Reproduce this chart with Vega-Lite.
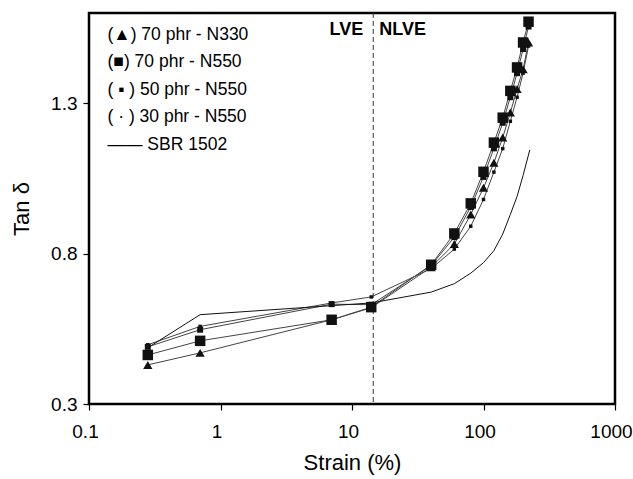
{
  "$schema": "https://vega.github.io/schema/vega-lite/v6.json",
  "width": 526,
  "height": 391,
  "autosize": {"type": "none"},
  "padding": {"left": 89, "top": 13, "right": 18, "bottom": 75},
  "background": "white",
  "config": {
    "font": "Liberation Sans",
    "view": {"stroke": "black", "strokeWidth": 2.5},
    "axis": {"grid": false, "domain": false, "tickColor": "black", "tickSize": 6, "tickWidth": 1.2, "labelColor": "black", "labelFont": "Liberation Sans", "labelFontSize": 19, "titleFont": "Liberation Sans", "titleFontSize": 22, "titleFontWeight": "normal", "titleColor": "black"}
  },
  "datasets": {
    "curves": [
      {"series": "(▲) 70 phr - N330", "strain": 0.28, "tan": 0.43},
      {"series": "(▲) 70 phr - N330", "strain": 0.7, "tan": 0.47},
      {"series": "(▲) 70 phr - N330", "strain": 7, "tan": 0.58},
      {"series": "(▲) 70 phr - N330", "strain": 14, "tan": 0.62},
      {"series": "(▲) 70 phr - N330", "strain": 40, "tan": 0.755},
      {"series": "(▲) 70 phr - N330", "strain": 60, "tan": 0.832},
      {"series": "(▲) 70 phr - N330", "strain": 80, "tan": 0.93},
      {"series": "(▲) 70 phr - N330", "strain": 100, "tan": 1.019},
      {"series": "(▲) 70 phr - N330", "strain": 120, "tan": 1.102},
      {"series": "(▲) 70 phr - N330", "strain": 140, "tan": 1.186},
      {"series": "(▲) 70 phr - N330", "strain": 160, "tan": 1.269},
      {"series": "(▲) 70 phr - N330", "strain": 180, "tan": 1.347},
      {"series": "(▲) 70 phr - N330", "strain": 200, "tan": 1.413},
      {"series": "(▲) 70 phr - N330", "strain": 220, "tan": 1.502},
      {"series": "(■) 70 phr - N550", "strain": 0.28, "tan": 0.463},
      {"series": "(■) 70 phr - N550", "strain": 0.7, "tan": 0.51},
      {"series": "(■) 70 phr - N550", "strain": 7, "tan": 0.58},
      {"series": "(■) 70 phr - N550", "strain": 14, "tan": 0.622},
      {"series": "(■) 70 phr - N550", "strain": 40, "tan": 0.763},
      {"series": "(■) 70 phr - N550", "strain": 60, "tan": 0.867},
      {"series": "(■) 70 phr - N550", "strain": 80, "tan": 0.967},
      {"series": "(■) 70 phr - N550", "strain": 100, "tan": 1.072},
      {"series": "(■) 70 phr - N550", "strain": 120, "tan": 1.169},
      {"series": "(■) 70 phr - N550", "strain": 140, "tan": 1.252},
      {"series": "(■) 70 phr - N550", "strain": 160, "tan": 1.341},
      {"series": "(■) 70 phr - N550", "strain": 180, "tan": 1.419},
      {"series": "(■) 70 phr - N550", "strain": 200, "tan": 1.502},
      {"series": "(■) 70 phr - N550", "strain": 220, "tan": 1.571},
      {"series": "( ▪ ) 50 phr - N550", "strain": 0.28, "tan": 0.49},
      {"series": "( ▪ ) 50 phr - N550", "strain": 0.7, "tan": 0.547},
      {"series": "( ▪ ) 50 phr - N550", "strain": 7, "tan": 0.632},
      {"series": "( ▪ ) 50 phr - N550", "strain": 14, "tan": 0.63},
      {"series": "( ▪ ) 50 phr - N550", "strain": 40, "tan": 0.76},
      {"series": "( ▪ ) 50 phr - N550", "strain": 60, "tan": 0.855},
      {"series": "( ▪ ) 50 phr - N550", "strain": 80, "tan": 0.955},
      {"series": "( ▪ ) 50 phr - N550", "strain": 100, "tan": 1.055},
      {"series": "( ▪ ) 50 phr - N550", "strain": 120, "tan": 1.15},
      {"series": "( ▪ ) 50 phr - N550", "strain": 140, "tan": 1.235},
      {"series": "( ▪ ) 50 phr - N550", "strain": 160, "tan": 1.32},
      {"series": "( ▪ ) 50 phr - N550", "strain": 180, "tan": 1.4},
      {"series": "( ▪ ) 50 phr - N550", "strain": 200, "tan": 1.48},
      {"series": "( ▪ ) 50 phr - N550", "strain": 220, "tan": 1.555},
      {"series": "( · ) 30 phr - N550", "strain": 0.28, "tan": 0.497},
      {"series": "( · ) 30 phr - N550", "strain": 0.7, "tan": 0.558},
      {"series": "( · ) 30 phr - N550", "strain": 7, "tan": 0.636},
      {"series": "( · ) 30 phr - N550", "strain": 14, "tan": 0.656},
      {"series": "( · ) 30 phr - N550", "strain": 40, "tan": 0.75},
      {"series": "( · ) 30 phr - N550", "strain": 60, "tan": 0.815},
      {"series": "( · ) 30 phr - N550", "strain": 80, "tan": 0.891},
      {"series": "( · ) 30 phr - N550", "strain": 100, "tan": 0.98},
      {"series": "( · ) 30 phr - N550", "strain": 120, "tan": 1.071},
      {"series": "( · ) 30 phr - N550", "strain": 140, "tan": 1.149},
      {"series": "( · ) 30 phr - N550", "strain": 160, "tan": 1.24},
      {"series": "( · ) 30 phr - N550", "strain": 180, "tan": 1.32},
      {"series": "( · ) 30 phr - N550", "strain": 200, "tan": 1.4},
      {"series": "( · ) 30 phr - N550", "strain": 220, "tan": 1.49},
      {"series": "—— SBR 1502", "strain": 0.28, "tan": 0.487},
      {"series": "—— SBR 1502", "strain": 0.7, "tan": 0.597},
      {"series": "—— SBR 1502", "strain": 7, "tan": 0.627},
      {"series": "—— SBR 1502", "strain": 14, "tan": 0.636},
      {"series": "—— SBR 1502", "strain": 40, "tan": 0.672},
      {"series": "—— SBR 1502", "strain": 60, "tan": 0.7},
      {"series": "—— SBR 1502", "strain": 80, "tan": 0.735},
      {"series": "—— SBR 1502", "strain": 100, "tan": 0.77},
      {"series": "—— SBR 1502", "strain": 120, "tan": 0.81},
      {"series": "—— SBR 1502", "strain": 140, "tan": 0.865},
      {"series": "—— SBR 1502", "strain": 160, "tan": 0.93},
      {"series": "—— SBR 1502", "strain": 180, "tan": 0.99},
      {"series": "—— SBR 1502", "strain": 200, "tan": 1.06},
      {"series": "—— SBR 1502", "strain": 225, "tan": 1.145}
    ],
    "divider": [{"strain": 14.5}],
    "lve": [{"strain": 14.5, "tan": 1.6, "label": "LVE"}],
    "nlve": [{"strain": 14.5, "tan": 1.6, "label": "NLVE"}]
  },
  "encoding": {
    "x": {"field": "strain", "type": "quantitative", "scale": {"type": "log", "domain": [0.1, 1000], "nice": false},
      "axis": {"values": [0.1, 1, 10, 100, 1000], "format": "~g", "title": "Strain (%)", "labelPadding": 12, "labelFlush": false, "labelOffset": -4, "titlePadding": 11}},
    "y": {"field": "tan", "type": "quantitative", "scale": {"domain": [0.3, 1.6], "nice": false, "zero": false},
      "axis": {"values": [0.3, 0.8, 1.3], "format": ".1f", "title": "Tan δ", "labelPadding": 6, "titlePadding": 17}}
  },
  "layer": [
    {
      "data": {"name": "divider"},
      "mark": {"type": "rule", "color": "#333", "strokeDash": [5, 3], "strokeWidth": 1},
      "encoding": {"y": null}
    },
    {
      "data": {"name": "lve"},
      "mark": {"type": "text", "align": "right", "baseline": "top", "dx": -10, "dy": 8, "fontSize": 18, "fontWeight": "bold", "color": "black"},
      "encoding": {"text": {"field": "label"}}
    },
    {
      "data": {"name": "nlve"},
      "mark": {"type": "text", "align": "left", "baseline": "top", "dx": 6, "dy": 8, "fontSize": 18, "fontWeight": "bold", "color": "black"},
      "encoding": {"text": {"field": "label"}}
    },
    {
      "data": {"name": "curves"},
      "mark": {"type": "line"},
      "encoding": {
        "color": {"field": "series", "type": "nominal",
          "scale": {"domain": ["(▲) 70 phr - N330", "(■) 70 phr - N550", "( ▪ ) 50 phr - N550", "( · ) 30 phr - N550", "—— SBR 1502"], "range": ["#444", "#444", "#444", "#444", "#111"]},
          "legend": {"orient": "none", "legendX": 1, "legendY": 13, "title": null, "symbolSize": 0, "symbolOpacity": 0, "symbolStrokeWidth": 0, "labelOffset": 0, "padding": 0, "rowPadding": 8.5, "labelFontSize": 17.5, "labelFont": "Liberation Sans", "labelColor": "black", "labelLimit": 300}},
        "strokeWidth": {"field": "series", "type": "nominal",
          "scale": {"domain": ["(▲) 70 phr - N330", "(■) 70 phr - N550", "( ▪ ) 50 phr - N550", "( · ) 30 phr - N550", "—— SBR 1502"], "range": [1, 1, 1, 1, 2]},
          "legend": null}
      }
    },
    {
      "data": {"name": "curves"},
      "transform": [{"filter": "datum.series === '(▲) 70 phr - N330'"}],
      "mark": {"type": "point", "shape": "triangle-up", "size": 85, "filled": true, "opacity": 1, "color": "#111"}
    },
    {
      "data": {"name": "curves"},
      "transform": [{"filter": "datum.series === '(■) 70 phr - N550'"}],
      "mark": {"type": "point", "shape": "square", "size": 110, "filled": true, "opacity": 1, "color": "#111"}
    },
    {
      "data": {"name": "curves"},
      "transform": [{"filter": "datum.series === '( ▪ ) 50 phr - N550'"}],
      "mark": {"type": "point", "shape": "square", "size": 36, "filled": true, "opacity": 1, "color": "#111"}
    },
    {
      "data": {"name": "curves"},
      "transform": [{"filter": "datum.series === '( · ) 30 phr - N550'"}],
      "mark": {"type": "point", "shape": "square", "size": 12, "filled": true, "opacity": 1, "color": "#111"}
    }
  ]
}
